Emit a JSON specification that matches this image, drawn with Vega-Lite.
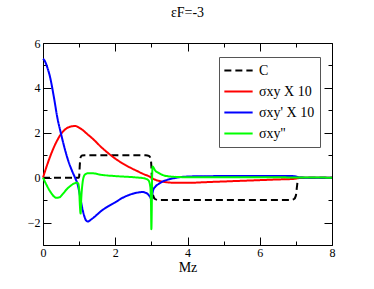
{
  "$schema": "https://vega.github.io/schema/vega-lite/v6.json",
  "width": 289,
  "height": 202,
  "autosize": {"type": "none"},
  "padding": {"left": 43, "top": 43, "right": 42, "bottom": 44},
  "background": "white",
  "title": {"text": "εF=-3", "font": "Liberation Serif", "fontSize": 14, "fontWeight": "normal", "color": "black", "offset": 17, "anchor": "middle"},
  "config": {
    "view": {"stroke": null},
    "axis": {"domainColor": "black", "tickColor": "black", "labelFont": "Liberation Serif", "labelFontSize": 12, "labelColor": "black", "grid": false, "titleFont": "Liberation Serif", "titleFontWeight": "normal", "titleColor": "black", "titleFontSize": 14}
  },
  "data": {"values": [
    {"s": "C", "x": 0, "y": 0}, {"s": "C", "x": 0.99, "y": 0}, {"s": "C", "x": 1.0, "y": 0.05}, {"s": "C", "x": 1.02, "y": 0.6}, {"s": "C", "x": 1.04, "y": 0.9}, {"s": "C", "x": 1.08, "y": 0.99}, {"s": "C", "x": 1.15, "y": 1}, {"s": "C", "x": 2.85, "y": 1}, {"s": "C", "x": 2.93, "y": 0.97}, {"s": "C", "x": 2.98, "y": 0.85}, {"s": "C", "x": 3.0, "y": 0.5}, {"s": "C", "x": 3.02, "y": -0.4}, {"s": "C", "x": 3.05, "y": -0.8}, {"s": "C", "x": 3.1, "y": -0.95}, {"s": "C", "x": 3.2, "y": -1}, {"s": "C", "x": 6.85, "y": -1}, {"s": "C", "x": 6.95, "y": -0.95}, {"s": "C", "x": 7.0, "y": -0.8}, {"s": "C", "x": 7.03, "y": -0.4}, {"s": "C", "x": 7.06, "y": -0.05}, {"s": "C", "x": 7.1, "y": 0}, {"s": "C", "x": 8, "y": 0},

    {"s": "R", "x": 0, "y": 0}, {"s": "R", "x": 0.1, "y": 0.5}, {"s": "R", "x": 0.2, "y": 0.95}, {"s": "R", "x": 0.3, "y": 1.35}, {"s": "R", "x": 0.4, "y": 1.68}, {"s": "R", "x": 0.5, "y": 1.95}, {"s": "R", "x": 0.6, "y": 2.13}, {"s": "R", "x": 0.7, "y": 2.24}, {"s": "R", "x": 0.8, "y": 2.29}, {"s": "R", "x": 0.9, "y": 2.3}, {"s": "R", "x": 1.0, "y": 2.23}, {"s": "R", "x": 1.1, "y": 2.12}, {"s": "R", "x": 1.2, "y": 1.98}, {"s": "R", "x": 1.4, "y": 1.7}, {"s": "R", "x": 1.6, "y": 1.38}, {"s": "R", "x": 1.8, "y": 1.1}, {"s": "R", "x": 2.0, "y": 0.85}, {"s": "R", "x": 2.2, "y": 0.64}, {"s": "R", "x": 2.4, "y": 0.46}, {"s": "R", "x": 2.6, "y": 0.3}, {"s": "R", "x": 2.8, "y": 0.15}, {"s": "R", "x": 2.95, "y": 0.05}, {"s": "R", "x": 3.05, "y": -0.05}, {"s": "R", "x": 3.2, "y": -0.14}, {"s": "R", "x": 3.4, "y": -0.2}, {"s": "R", "x": 3.7, "y": -0.23}, {"s": "R", "x": 4.0, "y": -0.23}, {"s": "R", "x": 4.5, "y": -0.2}, {"s": "R", "x": 5.0, "y": -0.17}, {"s": "R", "x": 5.5, "y": -0.14}, {"s": "R", "x": 6.0, "y": -0.11}, {"s": "R", "x": 6.5, "y": -0.08}, {"s": "R", "x": 6.9, "y": -0.06}, {"s": "R", "x": 7.0, "y": -0.04}, {"s": "R", "x": 7.1, "y": -0.01}, {"s": "R", "x": 7.3, "y": 0}, {"s": "R", "x": 8, "y": 0},

    {"s": "B", "x": 0, "y": 5.3}, {"s": "B", "x": 0.05, "y": 5.2}, {"s": "B", "x": 0.1, "y": 5.0}, {"s": "B", "x": 0.2, "y": 4.45}, {"s": "B", "x": 0.3, "y": 3.6}, {"s": "B", "x": 0.4, "y": 2.65}, {"s": "B", "x": 0.5, "y": 1.95}, {"s": "B", "x": 0.6, "y": 1.3}, {"s": "B", "x": 0.7, "y": 0.75}, {"s": "B", "x": 0.8, "y": 0.32}, {"s": "B", "x": 0.9, "y": -0.05}, {"s": "B", "x": 0.95, "y": -0.25}, {"s": "B", "x": 1.0, "y": -0.6}, {"s": "B", "x": 1.05, "y": -1.05}, {"s": "B", "x": 1.1, "y": -1.45}, {"s": "B", "x": 1.15, "y": -1.75}, {"s": "B", "x": 1.2, "y": -1.92}, {"s": "B", "x": 1.25, "y": -1.95}, {"s": "B", "x": 1.3, "y": -1.9}, {"s": "B", "x": 1.4, "y": -1.78}, {"s": "B", "x": 1.5, "y": -1.64}, {"s": "B", "x": 1.6, "y": -1.5}, {"s": "B", "x": 1.8, "y": -1.28}, {"s": "B", "x": 2.0, "y": -1.1}, {"s": "B", "x": 2.2, "y": -0.9}, {"s": "B", "x": 2.4, "y": -0.76}, {"s": "B", "x": 2.6, "y": -0.67}, {"s": "B", "x": 2.75, "y": -0.64}, {"s": "B", "x": 2.85, "y": -0.68}, {"s": "B", "x": 2.92, "y": -0.76}, {"s": "B", "x": 2.97, "y": -0.88}, {"s": "B", "x": 3.0, "y": -0.95}, {"s": "B", "x": 3.02, "y": -0.8}, {"s": "B", "x": 3.05, "y": -0.55}, {"s": "B", "x": 3.1, "y": -0.42}, {"s": "B", "x": 3.2, "y": -0.28}, {"s": "B", "x": 3.3, "y": -0.18}, {"s": "B", "x": 3.5, "y": -0.07}, {"s": "B", "x": 3.7, "y": 0.0}, {"s": "B", "x": 3.9, "y": 0.04}, {"s": "B", "x": 4.2, "y": 0.06}, {"s": "B", "x": 5.0, "y": 0.07}, {"s": "B", "x": 6.0, "y": 0.07}, {"s": "B", "x": 6.9, "y": 0.07}, {"s": "B", "x": 7.0, "y": 0.05}, {"s": "B", "x": 7.1, "y": 0.01}, {"s": "B", "x": 7.3, "y": 0}, {"s": "B", "x": 8, "y": 0},

    {"s": "G", "x": 0, "y": 0}, {"s": "G", "x": 0.1, "y": -0.33}, {"s": "G", "x": 0.2, "y": -0.62}, {"s": "G", "x": 0.3, "y": -0.83}, {"s": "G", "x": 0.37, "y": -0.9}, {"s": "G", "x": 0.45, "y": -0.88}, {"s": "G", "x": 0.55, "y": -0.72}, {"s": "G", "x": 0.65, "y": -0.53}, {"s": "G", "x": 0.75, "y": -0.38}, {"s": "G", "x": 0.85, "y": -0.27}, {"s": "G", "x": 0.93, "y": -0.22}, {"s": "G", "x": 0.97, "y": -0.25}, {"s": "G", "x": 1.0, "y": -0.5}, {"s": "G", "x": 1.02, "y": -1.2}, {"s": "G", "x": 1.04, "y": -1.6}, {"s": "G", "x": 1.06, "y": -0.9}, {"s": "G", "x": 1.09, "y": -0.3}, {"s": "G", "x": 1.12, "y": 0.0}, {"s": "G", "x": 1.17, "y": 0.15}, {"s": "G", "x": 1.25, "y": 0.2}, {"s": "G", "x": 1.35, "y": 0.2}, {"s": "G", "x": 1.6, "y": 0.13}, {"s": "G", "x": 2.0, "y": 0.07}, {"s": "G", "x": 2.5, "y": 0.02}, {"s": "G", "x": 2.8, "y": -0.03}, {"s": "G", "x": 2.92, "y": -0.12}, {"s": "G", "x": 2.97, "y": -0.4}, {"s": "G", "x": 2.99, "y": -1.2}, {"s": "G", "x": 3.0, "y": -2.3}, {"s": "G", "x": 3.01, "y": -1.5}, {"s": "G", "x": 3.02, "y": 0.0}, {"s": "G", "x": 3.035, "y": 0.5}, {"s": "G", "x": 3.06, "y": 0.45}, {"s": "G", "x": 3.1, "y": 0.33}, {"s": "G", "x": 3.2, "y": 0.21}, {"s": "G", "x": 3.35, "y": 0.1}, {"s": "G", "x": 3.6, "y": 0.04}, {"s": "G", "x": 4.0, "y": 0.02}, {"s": "G", "x": 5.0, "y": 0.02}, {"s": "G", "x": 6.0, "y": 0.02}, {"s": "G", "x": 7.0, "y": 0.01}, {"s": "G", "x": 8, "y": 0}
  ]},
  "encoding": {
    "x": {"field": "x", "type": "quantitative", "scale": {"domain": [0, 8], "nice": false, "zero": false}},
    "y": {"field": "y", "type": "quantitative", "scale": {"domain": [-3, 6], "nice": false, "zero": false}}
  },
  "layer": [
    {
      "mark": {"type": "line", "strokeWidth": 2, "interpolate": "monotone"},
      "encoding": {
        "x": {"field": "x", "type": "quantitative", "title": "Mz", "axis": {"values": [0, 1, 2, 3, 4, 5, 6, 7, 8], "labelExpr": "datum.value % 2 === 0 ? datum.label : ''", "tickSize": {"condition": {"test": "datum.value % 2 === 0", "value": -8}, "value": -4}, "labelPadding": 10, "titlePadding": 2, "labelFlush": false}},
        "y": {"field": "y", "type": "quantitative", "title": null, "axis": {"values": [-3, -2, -1, 0, 1, 2, 3, 4, 5, 6], "labelExpr": "datum.value % 2 === 0 ? datum.label : ''", "tickSize": {"condition": {"test": "datum.value % 2 === 0", "value": -8}, "value": -4}, "labelPadding": 11, "labelFlush": false}},
        "color": {"field": "s", "type": "nominal", "scale": {"domain": ["C", "R", "B", "G"], "range": ["black", "#ff0000", "#0000ff", "#00ff00"]},
          "legend": {"title": null, "orient": "none", "legendX": 176, "legendY": 14, "labelExpr": "{'C': 'C', 'R': 'σxy  X 10', 'B': 'σxy\\' X 10', 'G': 'σxy\\'\\''}[datum.value]", "strokeColor": "#555", "fillColor": "white", "padding": 4, "symbolType": "stroke", "symbolSize": 800, "symbolStrokeWidth": 2, "clipHeight": 19, "labelFont": "Liberation Serif", "labelFontSize": 14, "labelColor": "black", "labelOffset": 5}},
        "strokeDash": {"field": "s", "type": "nominal", "scale": {"domain": ["C", "R", "B", "G"], "range": [[7, 4], [1, 0], [1, 0], [1, 0]]}, "legend": null}
      }
    },
    {
      "mark": {"type": "line", "opacity": 0},
      "encoding": {
        "x": {"field": "x", "type": "quantitative", "axis": {"orient": "top", "values": [0, 1, 2, 3, 4, 5, 6, 7, 8], "labels": false, "title": null, "tickSize": {"condition": {"test": "datum.value % 2 === 0", "value": -8}, "value": -4}}},
        "y": {"field": "y", "type": "quantitative", "axis": {"orient": "right", "values": [-3, -2, -1, 0, 1, 2, 3, 4, 5, 6], "labels": false, "title": null, "tickSize": {"condition": {"test": "datum.value % 2 === 0", "value": -8}, "value": -4}}},
        "detail": {"field": "s"}
      }
    }
  ],
  "resolve": {"axis": {"x": "independent", "y": "independent"}}
}
